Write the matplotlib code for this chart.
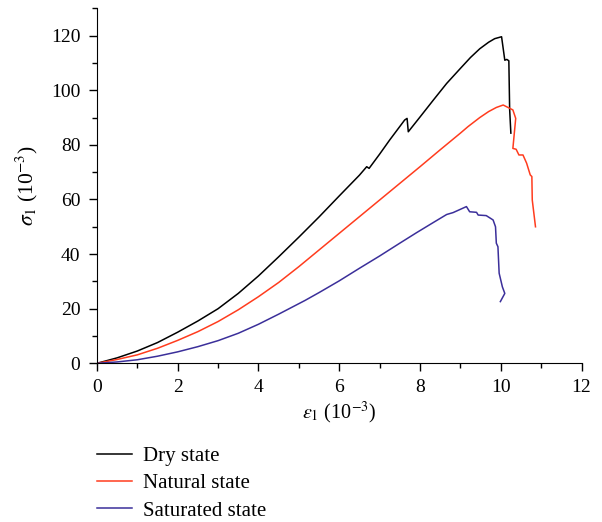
import matplotlib
matplotlib.use('Agg')
import matplotlib.pyplot as plt

plt.rcParams['font.family'] = ['Liberation Serif', 'DejaVu Serif']
plt.rcParams['mathtext.fontset'] = 'stix'

# dry state
dry_x = [0, 0.5, 1, 1.5, 2, 2.5, 3, 3.5, 4, 4.5, 5, 5.5, 6, 6.5, 6.68, 6.74, 7.0, 7.25,
         7.62, 7.68, 7.71, 8.0, 8.33, 8.66, 9.0, 9.25, 9.48, 9.7, 9.85, 10.02, 10.1, 10.15, 10.2,
         10.22, 10.25]
dry_y = [0, 2.0, 4.5, 7.6, 11.4, 15.5, 20.0, 25.6, 32.0, 39.0, 46.2, 53.6, 61.3, 68.9, 72.0, 71.4, 76.6, 81.8,
         89.1, 89.7, 84.8, 90.2, 96.4, 102.5, 108.0, 112.0, 115.2, 117.6, 118.9, 119.6, 111.0, 111.3, 110.8,
         93.0, 84.3]

# natural state
nat_x = [0, 0.5, 1, 1.5, 2, 2.5, 3, 3.5, 4, 4.5, 5, 5.5, 6, 6.5, 7, 7.5, 8, 8.5, 9, 9.19,
         9.48, 9.7, 9.89, 10.06, 10.14, 10.3, 10.37, 10.3, 10.38, 10.45, 10.55, 10.64, 10.73,
         10.77, 10.78, 10.82, 10.86]
nat_y = [0, 1.4, 3.1, 5.5, 8.4, 11.6, 15.3, 19.6, 24.4, 29.6, 35.4, 41.5, 47.6, 53.7, 59.8, 65.9, 72.0, 78.2, 84.3, 86.7,
         90.0, 92.2, 93.7, 94.6, 94.0, 92.8, 89.7, 78.7, 78.4, 76.3, 76.3, 73.3, 69.0,
         68.4, 59.8, 54.9, 50.0]

# saturated state
sat_x = [0, 0.5, 1, 1.5, 2, 2.5, 3, 3.5, 4, 4.5, 5.15, 5.5, 6, 6.5, 7, 7.5, 7.91, 8.3, 8.66,
         8.82, 9.15, 9.23, 9.4, 9.44, 9.64, 9.81, 9.87, 9.89, 9.93, 9.96, 10.04, 10.1, 9.99]
sat_y = [0, 0.5, 1.3, 2.6, 4.2, 6.1, 8.3, 11.0, 14.3, 18.0, 23.0, 25.9, 30.2, 34.8, 39.3, 44.0, 47.8, 51.3, 54.5,
         55.2, 57.4, 55.5, 55.3, 54.3, 54.1, 52.5, 50.0, 44.0, 42.7, 33.0, 28.0, 25.6, 22.6]

fig = plt.figure(figsize=(6.02, 5.22), dpi=100)
ax = fig.add_axes([0.161, 0.304, 0.805, 0.680])

l1, = ax.plot(dry_x, dry_y, color='black', lw=1.1)
l2, = ax.plot(nat_x, nat_y, color='#ff3c1e', lw=1.1)
l3, = ax.plot(sat_x, sat_y, color='#3b2f9a', lw=1.1)

ax.set_xlim(0, 12)
ax.set_ylim(0, 130)
ax.set_xticks(range(0, 13, 2))
ax.set_xticks(range(1, 12, 2), minor=True)
ax.set_yticks(range(0, 121, 20))
ax.set_yticks(range(10, 131, 20), minor=True)
ax.spines['top'].set_visible(False)
ax.spines['right'].set_visible(False)
ax.tick_params(which='major', direction='out', length=6, width=1, labelsize=14)
ax.tick_params(axis='y', which='major', pad=6)
ax.tick_params(axis='x', which='major', pad=5)
ax.tick_params(which='minor', direction='out', length=3.5, width=1)

ax.set_xlabel(r'$\varepsilon_1$ (10$^{-3}$)', fontsize=14.5, labelpad=3)
ax.set_ylabel(r'$\sigma_1$ (10$^{-3}$)', fontsize=15.5, labelpad=8)

fig.legend([l1, l2, l3], ['Dry state', 'Natural state', 'Saturated state'],
           loc='upper left', bbox_to_anchor=(0.1616, 0.144), frameon=False,
           fontsize=15, handlelength=1.65, handletextpad=0.53, labelspacing=0.36,
           borderaxespad=0, borderpad=0)

fig.savefig('out.png', dpi=100)
